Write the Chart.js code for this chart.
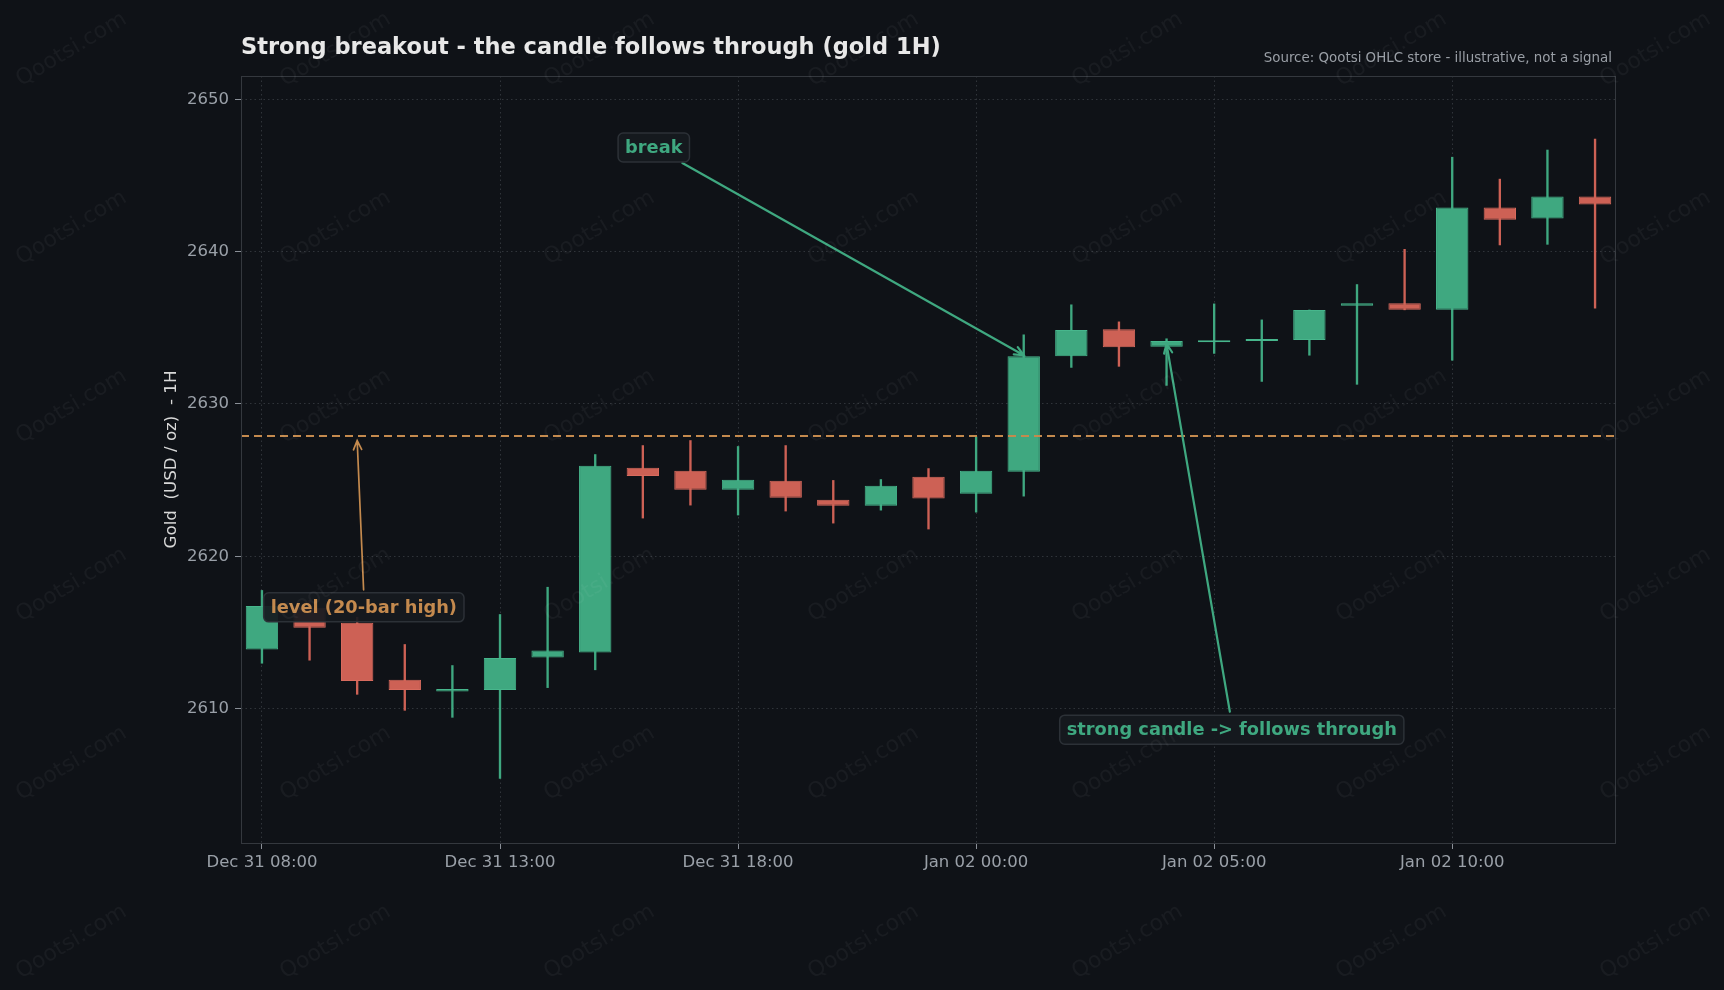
<!DOCTYPE html>
<html>
<head>
<meta charset="utf-8">
<script src="https://cdn.jsdelivr.net/npm/chart.js@4.4.1/dist/chart.umd.min.js"></script>
<style>
  html, body { margin: 0; padding: 0; background: #0f1217; overflow: hidden; }
  #wrap { width: 1724px; height: 990px; position: relative; }
</style>
</head>
<body>
<div id="wrap"><canvas id="candles"></canvas></div>
<script>
// gold 1H candles
const times = [
  'Dec 31 08:00', 'Dec 31 09:00', 'Dec 31 10:00', 'Dec 31 11:00', 'Dec 31 12:00',
  'Dec 31 13:00', 'Dec 31 14:00', 'Dec 31 15:00', 'Dec 31 16:00', 'Dec 31 17:00',
  'Dec 31 18:00', 'Dec 31 19:00', 'Dec 31 20:00', 'Dec 31 21:00', 'Dec 31 22:00',
  'Jan 02 00:00', 'Jan 02 01:00', 'Jan 02 02:00', 'Jan 02 03:00', 'Jan 02 04:00',
  'Jan 02 05:00', 'Jan 02 06:00', 'Jan 02 07:00', 'Jan 02 08:00', 'Jan 02 09:00',
  'Jan 02 10:00', 'Jan 02 11:00', 'Jan 02 12:00', 'Jan 02 13:00'
];
const opens  = [2613.88, 2616.62, 2615.64, 2611.89, 2611.12, 2611.23, 2613.36, 2613.69, 2625.81, 2625.61,
                2624.37, 2624.96, 2623.71, 2623.32, 2625.22, 2624.10, 2625.55, 2633.14, 2634.91, 2633.76,
                2634.06, 2634.13, 2634.20, 2636.45, 2636.62, 2636.18, 2642.89, 2642.17, 2643.62];
const highs  = [2617.76, 2617.10, 2616.00, 2614.21, 2612.83, 2616.18, 2617.97, 2626.68, 2627.27, 2627.60,
                2627.21, 2627.27, 2624.98, 2625.04, 2625.76, 2627.84, 2634.54, 2636.51, 2635.39, 2634.28,
                2636.57, 2635.52, 2636.17, 2637.84, 2640.15, 2646.20, 2644.76, 2646.67, 2647.39];
const lows   = [2612.98, 2613.18, 2610.94, 2609.89, 2609.43, 2605.42, 2611.38, 2612.55, 2622.51, 2623.36,
                2622.71, 2622.97, 2622.18, 2623.03, 2621.79, 2622.90, 2623.95, 2632.40, 2632.47, 2631.22,
                2633.32, 2631.48, 2633.20, 2631.29, 2636.18, 2632.87, 2640.44, 2640.48, 2636.29];
const closes = [2616.73, 2615.31, 2611.82, 2611.23, 2611.29, 2613.33, 2613.82, 2625.94, 2625.28, 2624.37,
                2625.02, 2623.84, 2623.32, 2624.63, 2623.80, 2625.61, 2633.14, 2634.85, 2633.73, 2634.13,
                2634.19, 2634.26, 2636.17, 2636.62, 2636.18, 2642.89, 2642.10, 2643.62, 2643.09];
const level = 2627.9;   // 20-bar high
const xTicks = [0, 5, 10, 15, 20, 25];
const yTicks = [2610, 2620, 2630, 2640, 2650];

const GREEN = '#3fa880';
const GREEN_EDGE = '#47b68c';
const RED = '#cd6155';
const RED_EDGE = '#d86b5e';
const ORANGE = '#c48a4e';
const FONT = "'DejaVu Sans', sans-serif";

const up = closes.map((c, i) => c >= opens[i]);
const bodies = closes.map((c, i) => ({ x: i, y: [Math.min(opens[i], c), Math.max(opens[i], c)] }));
const wicks = closes.map((c, i) => ({ x: i, y: [lows[i], highs[i]] }));

const notes = [
  { text: 'break', color: GREEN, at: [8.23, 2646.84], from: [8.83, 2645.82], to: [16, 2633.2], lw: 2.2 },
  { text: 'level (20-bar high)', color: ORANGE, at: [2.14, 2616.65], from: [2.135, 2617.8], to: [2, 2627.6], lw: 1.7 },
  { text: 'strong candle -> follows through', color: GREEN, at: [20.37, 2608.62], from: [20.33, 2609.8], to: [19, 2633.94], lw: 2.2 }
];

function roundRect(ctx, x, y, w, h, r) {
  ctx.beginPath();
  ctx.moveTo(x + r, y);
  ctx.arcTo(x + w, y, x + w, y + h, r);
  ctx.arcTo(x + w, y + h, x, y + h, r);
  ctx.arcTo(x, y + h, x, y, r);
  ctx.arcTo(x, y, x + w, y, r);
  ctx.closePath();
}

const decor = {
  id: 'decor',
  beforeDraw(chart) {
    const ctx = chart.ctx;
    ctx.save();
    ctx.fillStyle = '#0f1217';
    ctx.fillRect(0, 0, chart.width, chart.height);
    ctx.restore();
  },
  afterDraw(chart) {
    const ctx = chart.ctx;
    const a = chart.chartArea;
    const xs = chart.scales.x, ys = chart.scales.y;
    ctx.save();
    // frame
    ctx.strokeStyle = '#34383e';
    ctx.lineWidth = 1;
    ctx.strokeRect(a.left + 0.5, a.top + 0.5, a.right - a.left - 1, a.bottom - a.top);

    // title + source
    ctx.fillStyle = '#e8e8e8';
    ctx.font = 'bold 22.5px ' + FONT;
    ctx.textBaseline = 'middle';
    ctx.textAlign = 'left';
    ctx.fillText('Strong breakout - the candle follows through (gold 1H)', a.left, 48);
    ctx.fillStyle = '#9a9fa6';
    ctx.font = '13.4px ' + FONT;
    ctx.textAlign = 'right';
    ctx.fillText('Source: Qootsi OHLC store - illustrative, not a signal', 1612, 59);

    // annotations
    notes.forEach(n => {
      const fx = xs.getPixelForValue(n.from[0]), fy = ys.getPixelForValue(n.from[1]);
      const tx = xs.getPixelForValue(n.to[0]), ty = ys.getPixelForValue(n.to[1]);
      ctx.strokeStyle = n.color;
      ctx.lineWidth = n.lw;
      ctx.lineCap = 'round';
      ctx.beginPath();
      ctx.moveTo(fx, fy);
      ctx.lineTo(tx, ty);
      const ang = Math.atan2(ty - fy, tx - fx);
      const hl = 10, spread = 0.42;
      ctx.moveTo(tx - hl * Math.cos(ang - spread), ty - hl * Math.sin(ang - spread));
      ctx.lineTo(tx, ty);
      ctx.lineTo(tx - hl * Math.cos(ang + spread), ty - hl * Math.sin(ang + spread));
      ctx.stroke();

      ctx.font = 'bold 17.8px ' + FONT;
      const w = ctx.measureText(n.text).width + 14;
      const h = 29;
      const cx = xs.getPixelForValue(n.at[0]), cy = ys.getPixelForValue(n.at[1]);
      roundRect(ctx, cx - w / 2, cy - h / 2, w, h, 5);
      ctx.fillStyle = 'rgba(22,26,31,0.93)';
      ctx.fill();
      ctx.strokeStyle = '#2c3137';
      ctx.lineWidth = 1.5;
      ctx.stroke();
      ctx.fillStyle = n.color;
      ctx.textAlign = 'center';
      ctx.textBaseline = 'middle';
      ctx.fillText(n.text, cx, cy + 1);
    });

    // watermark
    ctx.font = '22px ' + FONT;
    ctx.fillStyle = 'rgba(255,255,255,0.045)';
    ctx.textAlign = 'center';
    ctx.textBaseline = 'middle';
    for (let gx = 71.5; gx < chart.width + 100; gx += 264) {
      for (let gy = 49.5; gy < chart.height + 60; gy += 178.5) {
        ctx.save();
        ctx.translate(gx, gy);
        ctx.rotate(-31 * Math.PI / 180);
        ctx.fillText('Qootsi.com', 0, 0);
        ctx.restore();
      }
    }
    ctx.restore();
  }
};

new Chart(document.getElementById('candles'), {
  type: 'bar',
  data: {
    datasets: [
      {
        label: 'body',
        data: bodies,
        backgroundColor: up.map(u => u ? GREEN : RED),
        borderColor: up.map(u => u ? GREEN_EDGE : RED_EDGE),
        borderWidth: 1,
        borderSkipped: false,
        grouped: false,
        categoryPercentage: 1,
        barPercentage: 0.68,
        minBarLength: 2,
        order: 1
      },
      {
        label: 'wick',
        data: wicks,
        backgroundColor: up.map(u => u ? GREEN : RED),
        borderWidth: 0,
        grouped: false,
        barThickness: 1.7,
        order: 2
      },
      {
        type: 'line',
        label: 'level',
        data: [{ x: -0.44, y: level }, { x: 28.44, y: level }],
        borderColor: ORANGE,
        borderWidth: 2,
        borderDash: [8, 5],
        pointRadius: 0,
        order: 0
      }
    ]
  },
  options: {
    responsive: true,
    maintainAspectRatio: false,
    animation: false,
    layout: { padding: { left: 0, right: 108, top: 76, bottom: 0 } },
    plugins: {
      legend: { display: false },
      tooltip: { enabled: false },
      title: { display: false }
    },
    scales: {
      x: {
        type: 'linear',
        min: -0.44,
        max: 28.44,
        offset: false,
        afterBuildTicks: s => { s.ticks = xTicks.map(v => ({ value: v })); },
        afterFit: s => { s.height = 147; },
        ticks: {
          color: '#9aa0a8',
          font: { family: FONT, size: 16.5 },
          padding: 4,
          maxRotation: 0,
          autoSkip: false,
          callback: v => times[v]
        },
        grid: {
          offset: false,
          color: '#30343a',
          tickColor: '#8a8f97',
          tickBorderDash: [],
          tickLength: 6
        },
        border: { display: false, dash: [1.5, 3] }
      },
      y: {
        min: 2601.18,
        max: 2651.53,
        afterBuildTicks: s => { s.ticks = yTicks.map(v => ({ value: v })); },
        afterFit: s => { s.width = 241; },
        ticks: {
          color: '#9aa0a8',
          font: { family: FONT, size: 16.5 },
          padding: 6,
          callback: v => String(v)
        },
        grid: {
          color: '#30343a',
          tickColor: '#8a8f97',
          tickBorderDash: [],
          tickLength: 6
        },
        border: { display: false, dash: [1.5, 3] },
        title: {
          display: true,
          text: 'Gold  (USD / oz)  - 1H',
          color: '#d8d8d8',
          font: { family: FONT, size: 16.7 },
          padding: { top: 162, bottom: 0 }
        }
      }
    }
  },
  plugins: [decor]
});
</script>
</body>
</html>
